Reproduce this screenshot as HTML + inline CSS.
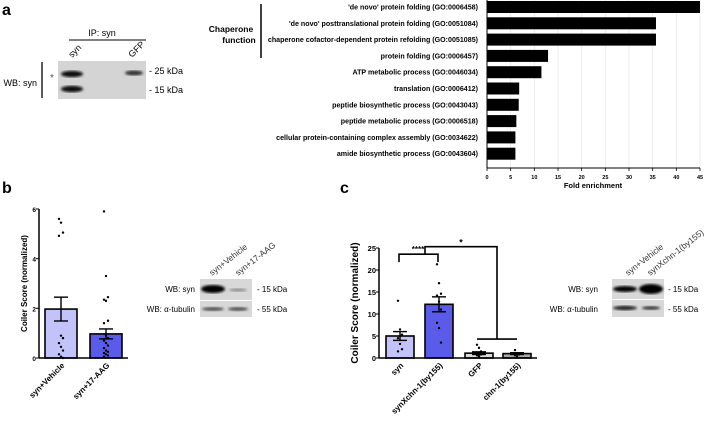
<!DOCTYPE html>
<html><head><meta charset="utf-8"><style>
body{margin:0;background:#fff;}
svg{display:block;font-family:"Liberation Sans",Arial,sans-serif;}
</style></head><body>
<svg id="fig" width="709" height="424" viewBox="0 0 709 424" xmlns="http://www.w3.org/2000/svg">
<defs>
<filter id="blur1"><feGaussianBlur stdDeviation="1.2"/></filter>
</defs>
<g>
<text x="2" y="15" font-size="16" font-weight="bold">a</text>
<text x="102" y="36" font-size="9" text-anchor="middle">IP: syn</text>
<line x1="69" y1="40" x2="146" y2="40" stroke="#000" stroke-width="1"/>
<text x="72" y="58" font-size="9" transform="rotate(-45 72 58)">syn</text>
<text x="132" y="58" font-size="9" transform="rotate(-45 132 58)">GFP</text>
<rect x="58" y="61" width="88" height="38" fill="#d4d4d4"/>
<ellipse cx="72" cy="74" rx="11" ry="3.2" fill="#111" filter="url(#blur1)"/>
<ellipse cx="72" cy="89" rx="11" ry="3.2" fill="#111" filter="url(#blur1)"/>
<ellipse cx="134" cy="73" rx="9" ry="2.5" fill="#333" filter="url(#blur1)"/>
<text x="50" y="81" font-size="10" fill="#555">*</text>
<line x1="42" y1="62" x2="42" y2="98" stroke="#000" stroke-width="1.3"/>
<text x="37" y="86" font-size="9" text-anchor="end">WB: syn</text>
<text x="149" y="74" font-size="9">- 25 kDa</text>
<text x="149" y="93" font-size="9">- 15 kDa</text>
</g>
<g id="chartA"></g>
<g id="chartB"></g>
<g id="chartC"></g>
<g>
<text x="212" y="276" font-size="8.5" fill="#333" transform="rotate(-38 212 276)">syn+Vehicle</text>
<text x="238" y="276" font-size="8.5" fill="#333" transform="rotate(-38 238 276)">syn+17-AAG</text>
<rect x="200" y="279" width="52" height="21" fill="#d8d8d8"/>
<rect x="200" y="301" width="52" height="16" fill="#d8d8d8"/>
<ellipse cx="213" cy="289" rx="12" ry="4" fill="#000" filter="url(#blur1)"/>
<ellipse cx="238" cy="290" rx="9" ry="1.5" fill="#888" filter="url(#blur1)"/>
<ellipse cx="213" cy="309" rx="11" ry="2" fill="#555" filter="url(#blur1)"/>
<ellipse cx="238" cy="309" rx="10" ry="2" fill="#555" filter="url(#blur1)"/>
<text x="195" y="292" font-size="8" text-anchor="end">WB: syn</text>
<text x="195" y="312" font-size="8" text-anchor="end">WB: α-tubulin</text>
<text x="257" y="292" font-size="8">- 15 kDa</text>
<text x="257" y="312" font-size="8">- 55 kDa</text>
</g>
<g>
<text x="628" y="276" font-size="8.5" fill="#333" transform="rotate(-38 628 276)">syn+Vehicle</text>
<text x="650" y="276" font-size="8.5" fill="#333" transform="rotate(-38 650 276)">synXchn-1(by155)</text>
<rect x="612" y="279" width="52" height="20" fill="#d8d8d8"/>
<rect x="612" y="300" width="52" height="17" fill="#d8d8d8"/>
<ellipse cx="625" cy="289" rx="12" ry="3" fill="#000" filter="url(#blur1)"/>
<ellipse cx="651" cy="289" rx="12" ry="5" fill="#000" filter="url(#blur1)"/>
<ellipse cx="625" cy="308" rx="12" ry="2.2" fill="#222" filter="url(#blur1)"/>
<ellipse cx="651" cy="308" rx="9" ry="1.8" fill="#333" filter="url(#blur1)"/>
<text x="598" y="292" font-size="8" text-anchor="end">WB: syn</text>
<text x="598" y="312" font-size="8" text-anchor="end">WB: α-tubulin</text>
<text x="668" y="292" font-size="8">- 15 kDa</text>
<text x="668" y="312" font-size="8">- 55 kDa</text>
</g>
</svg>
<script>
const NS="http://www.w3.org/2000/svg";
function mk(p,tag,attrs,txt){const e=document.createElementNS(NS,tag);for(const k in attrs)e.setAttribute(k,attrs[k]);if(txt!==undefined)e.textContent=txt;p.appendChild(e);return e;}

const goTerms=["'de novo' protein folding (GO:0006458)","'de novo' posttranslational protein folding (GO:0051084)","chaperone cofactor-dependent protein refolding (GO:0051085)","protein folding (GO:0006457)","ATP metabolic process (GO:0046034)","translation (GO:0006412)","peptide biosynthetic process (GO:0043043)","peptide metabolic process (GO:0006518)","cellular protein-containing complex assembly (GO:0034622)","amide biosynthetic process (GO:0043604)"];
const goFold=[45,35.7,35.7,12.9,11.5,6.8,6.7,6.2,6.0,6.0];
const goTicks=[0,5,10,15,20,25,30,35,40,45];

const bCats=["syn+Vehicle","syn+17-AAG"];
const bMeans=[1.97,0.97];
const bSem=[0.48,0.2];
const bPts0=[5.6,5.45,5.05,4.92,0.9,0.8,0.6,0.45,0.3,0.15,0.05,0];
const bPts1=[5.9,3.3,2.45,2.35,2.3,1.5,1.4,0.9,0.8,0.7,0.6,0.5,0.4,0.3,0.25,0.2,0.15,0.1,0.05];
const bTicks=[0,2,4,6];

const cCats=["syn","synXchn-1(by155)","GFP","chn-1(by155)"];
const cMeans=[5.0,12.2,1.1,1.0];
const cSem=[1.0,1.7,0.3,0.2];
const cPts0=[13,6.5,5.3,4.5,3.2,2.0,1.5];
const cPts1=[21.3,17,14.6,14.2,12.8,11,8,6.8,3.5];
const cPts2=[3,2.3,1.5,1.2,1,0.8,0.6,0.4];
const cPts3=[1.8,1,0.8,0.6,0.4];
const cTicks=[0,5,10,15,20,25];

(function(){
 const g=document.getElementById('chartA');
 const x=v=>487+v*(700-487)/45, yC=i=>7+i*16.3;
 goTicks.forEach(t=>{ if(t>0){const l=mk(g,'line',{x1:x(t),x2:x(t),y1:0,y2:168,stroke:'#e6e6e6','stroke-width':0.7});}});
 goFold.forEach((v,i)=>{
  const r=mk(g,'rect',{x:x(0),y:yC(i)-6,width:x(v)-x(0),height:12,fill:'#000'});
  
  const t=mk(g,'text',{x:478,y:yC(i)+2.5,'font-size':7.1,'font-weight':'bold','text-anchor':'end'},goTerms[i]);
  
 });
 mk(g,'line',{x1:x(0),x2:x(45),y1:168,y2:168,stroke:'#000','stroke-width':1});
 mk(g,'line',{x1:x(0),x2:x(0),y1:0,y2:168,stroke:'#000','stroke-width':1});
 goTicks.forEach(t=>{mk(g,'line',{x1:x(t),x2:x(t),y1:168,y2:171,stroke:'#000','stroke-width':0.8});
  const tl=mk(g,'text',{x:x(t),y:179,'font-size':5.5,'font-weight':'bold','text-anchor':'middle'},String(t));
  });
 const xt=mk(g,'text',{x:593,y:188,'font-size':7.5,'font-weight':'bold','text-anchor':'middle'},'Fold enrichment');
 
 mk(g,'line',{x1:261,x2:261,y1:4,y2:58,stroke:'#000','stroke-width':1.5});
 const c1=mk(g,'text',{x:231,y:32,'font-size':8.5,'font-weight':'bold','text-anchor':'middle'},'Chaperone');
 
 mk(g,'text',{x:239,y:43,'font-size':8.5,'font-weight':'bold','text-anchor':'middle'},'function');
})();

function barChart(gid,o){
 const g=document.getElementById(gid);
 const y=v=>o.y0-v*(o.y0-o.yTop)/o.max;
 mk(g,'text',{x:o.lx,y:193,'font-size':16,'font-weight':'bold'},o.letter);
 o.means.forEach((m,i)=>{
  const x0=o.bx[i],w=o.bw,cx=x0+w/2;
  const r=mk(g,'rect',{x:x0,y:y(m),width:w,height:o.y0-y(m),fill:o.fills[i],stroke:'#000','stroke-width':1.6});
  
  o.pts[i].forEach((p,j)=>{const d=mk(g,'circle',{cx:cx+((j%3)-1)*2,cy:y(p),r:1.2,fill:'#000'});
   });
  const hi=y(m+o.sem[i]),lo=y(m-o.sem[i]);
  mk(g,'line',{x1:cx,x2:cx,y1:hi,y2:lo,stroke:'#000','stroke-width':1.4});
  mk(g,'line',{x1:cx-7,x2:cx+7,y1:hi,y2:hi,stroke:'#000','stroke-width':1.4});
  mk(g,'line',{x1:cx-7,x2:cx+7,y1:lo,y2:lo,stroke:'#000','stroke-width':1.4});
  const t=mk(g,'text',{x:cx+4,y:o.y0+8,'font-size':8,'font-weight':'bold','text-anchor':'end',transform:`rotate(-45 ${cx+4} ${o.y0+8})`},o.cats[i]);
  
 });
 mk(g,'line',{x1:o.ax,x2:o.ax,y1:o.yTop,y2:o.y0,stroke:'#000','stroke-width':1.5});
 mk(g,'line',{x1:o.ax,x2:o.axEnd,y1:o.y0,y2:o.y0,stroke:'#000','stroke-width':1.5});
 o.ticks.forEach(t=>{mk(g,'line',{x1:o.ax-3,x2:o.ax,y1:y(t),y2:y(t),stroke:'#000','stroke-width':1});
  const tl=mk(g,'text',{x:o.ax-3,y:y(t)+3,'font-size':o.tfs,'font-weight':'bold','text-anchor':'end'},String(t));
  });
 const yl=mk(g,'text',{x:o.ylx,y:(o.y0+o.yTop)/2,'font-size':o.yfs,'font-weight':'bold','text-anchor':'middle',transform:`rotate(-90 ${o.ylx} ${(o.y0+o.yTop)/2})`},'Coiler  Score  (normalized)');
 
 return {g,y};
}
barChart('chartB',{letter:'b',lx:2,cats:bCats,means:bMeans,sem:bSem,pts:[bPts0,bPts1],bx:[45,90],bw:32,fills:['#c3c3fa','#5b5bea'],y0:358,yTop:209,max:6,ax:39,axEnd:128,ticks:bTicks,tfs:6.5,ylx:27,yfs:8});
const C=barChart('chartC',{letter:'c',lx:340,cats:cCats,means:cMeans,sem:cSem,pts:[cPts0,cPts1,cPts2,cPts3],bx:[386,425,465,503],bw:28,fills:['#c3c3fa','#5b5bea','#dcdcdc','#a8a8a8'],y0:358,yTop:248,max:25,ax:379,axEnd:537,ticks:cTicks,tfs:7.5,ylx:358,yfs:10});
(function(){
 const g=C.g,y=C.y;
 const s={stroke:'#000','stroke-width':1.6,fill:'none'};
 mk(g,'polyline',Object.assign({points:`399,${y(21.8)} 399,${y(23.6)} 438,${y(23.6)} 438,${y(21.8)}`},s));
 mk(g,'text',{x:418,y:y(23.6)-2,'font-size':8,'font-weight':'bold','text-anchor':'middle'},'****');
 mk(g,'polyline',Object.assign({points:`425,${y(23.6)} 425,${y(25.3)} 497,${y(25.3)} 497,${y(4.3)}`},s));
 mk(g,'line',{x1:477,x2:517,y1:y(4.3),y2:y(4.3),stroke:'#000','stroke-width':1.6});
 mk(g,'text',{x:461,y:y(25.3)-1,'font-size':9,'font-weight':'bold','text-anchor':'middle'},'*');
})();
</script>
</body></html>
